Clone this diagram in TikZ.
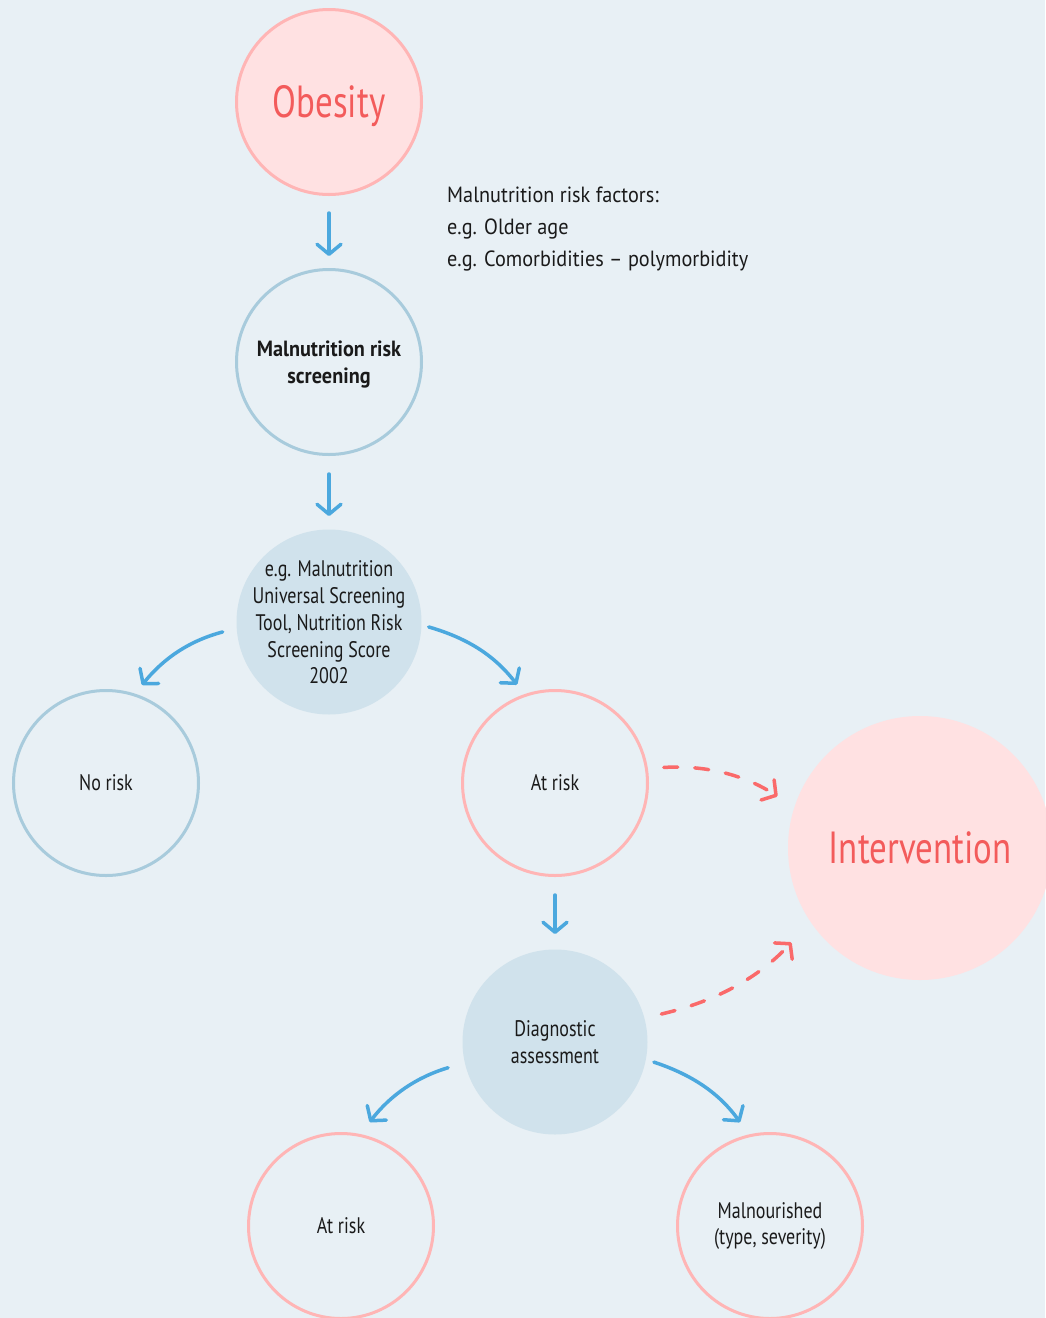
\documentclass[tikz,border=0pt]{standalone}
\usepackage{fontspec}
\setmainfont{PT Sans}[FakeStretch=0.80]
\newfontfamily\factfont{PT Sans}[FakeStretch=0.92]
\newfontfamily\boldnode{PT Sans Bold}[FakeStretch=0.92]
\newfontfamily\headfont{PT Sans}[FakeStretch=0.775]
\usetikzlibrary{arrows.meta,calc}
\definecolor{bgc}{HTML}{E8F0F5}
\definecolor{pinkfill}{HTML}{FFE1E2}
\definecolor{pinkline}{HTML}{FFB5B5}
\definecolor{blueline}{HTML}{A8CBDC}
\definecolor{bluefill}{HTML}{D0E2EC}
\definecolor{bluearrow}{HTML}{4BA8DE}
\definecolor{redarrow}{HTML}{FA6A6A}
\definecolor{redtext}{HTML}{F35B5B}
\definecolor{txt}{HTML}{1A1A1A}
\newcommand{\lowered}[2]{\raisebox{-#1}[\height][\depth]{#2}}
\newcommand{\lowtight}[2]{\raisebox{-#1}[\dimexpr\height-40pt\relax][\dimexpr\depth-40pt\relax]{#2}}
\tikzset{
  bubble/.style={circle, minimum size=185pt, inner sep=0pt, line width=3pt, align=center, text=txt, font=\fontsize{22.5}{26.7}\selectfont},
  pinkring/.style={bubble, draw=pinkline},
  bluering/.style={bubble, draw=blueline},
  bluedisc/.style={bubble, fill=bluefill},
  bigpink/.style={circle, inner sep=0pt, fill=pinkfill, text=redtext, font=\headfont\fontsize{45}{50}\selectfont},
  flow/.style={draw=bluearrow, line width=3.5pt, line cap=round, -{Straight Barb[length=10pt,width=24pt,line cap=round,line join=round]}},
  flowdash/.style={draw=redarrow, line width=3.5pt, line cap=round, dash pattern=on 14pt off 17pt, -{Straight Barb[length=10pt,width=24pt,line cap=round,line join=round]}},
}
\begin{document}
\begin{tikzpicture}[x=1pt,y=-1pt]
\fill[bgc] (0,0) rectangle (1045,1318);
\useasboundingbox (0,0) rectangle (1045,1318);

\node[bigpink, draw=pinkline, line width=3pt, minimum size=185pt] (obesity) at (329,102) {\lowered{4pt}{Obesity}};
\node[bluering, font=\boldnode\fontsize{22}{27}\selectfont] (screen) at (329,362) {\lowered{3pt}{\begin{tabular}{@{}c@{}}Malnutrition risk\\screening\end{tabular}}};
\node[bluedisc] (tool) at (329,622) {\lowtight{3pt}{\begin{tabular}{@{}c@{}}e.g. Malnutrition\\Universal Screening\\Tool, Nutrition Risk\\Screening Score\\2002\end{tabular}}};
\node[bluering] (norisk) at (106,783) {No risk};
\node[pinkring] (atrisk) at (555,783) {At risk};
\node[bigpink, minimum size=264pt] (interv) at (920,848) {Intervention};
\node[bluedisc] (diag) at (555,1042) {Diagnostic\\assessment};
\node[pinkring] (atrisktwo) at (341,1226) {At risk};
\node[pinkring] (maln) at (770,1226) {Malnourished\\(type, severity)};

\node[anchor=north west, align=left, text=txt, font=\factfont\fontsize{22}{32}\selectfont, inner sep=0pt] (factors) at (447,187) {Malnutrition risk factors:\\e.g. Older age\\e.g. Comorbidities – polymorbidity};

\draw[flow, shorten <=17pt, shorten >=12pt] (obesity.south) -- (screen.north);
\draw[flow, shorten <=18pt, shorten >=12pt] (screen.south) -- (tool.north);
\draw[flow, shorten <=18pt, shorten >=14pt] (atrisk.south) -- (diag.north);
\draw[flow, shorten <=13pt, shorten >=11pt] (tool.184) to[bend right=18] (norisk.72);
\draw[flow, shorten <=6pt, shorten >=12pt] (tool.-2) to[bend left=18] (atrisk.109);
\draw[flow, shorten <=16pt, shorten >=15pt] (diag.193) to[bend right=18] (atrisktwo.78);
\draw[flow, shorten <=7pt, shorten >=15pt] (diag.-11) to[bend left=18] (maln.103);
\draw[flowdash, shorten <=16pt, shorten >=20pt] (atrisk.9) to[bend left=18] (interv.162);
\draw[flowdash, shorten <=16pt, shorten >=28pt] (diag.15) to[bend right=17] (interv.214);
\end{tikzpicture}
\end{document}
